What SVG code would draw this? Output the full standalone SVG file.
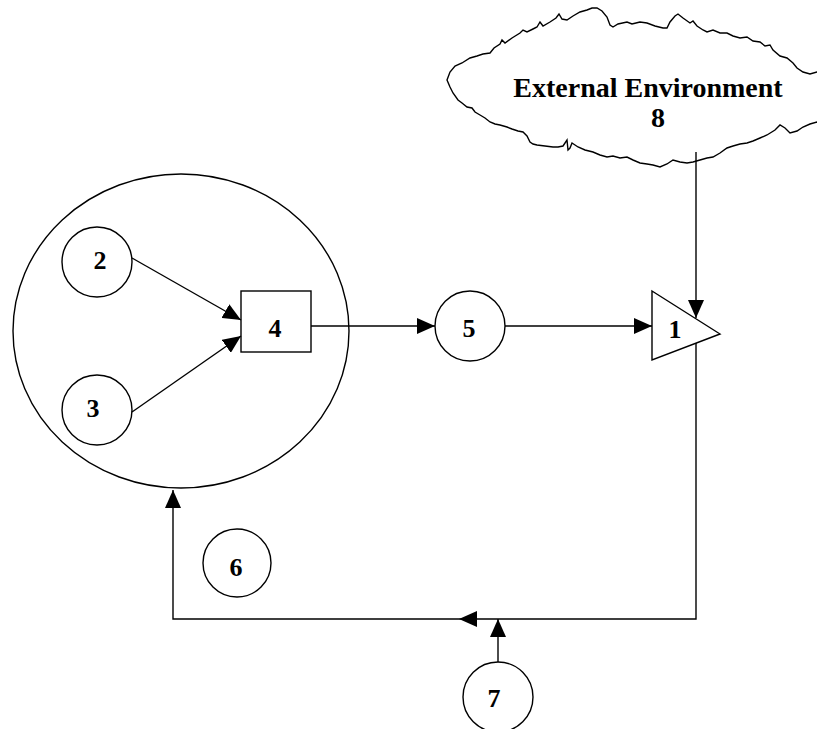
<svg xmlns="http://www.w3.org/2000/svg" width="817" height="729" viewBox="0 0 817 729">
<style>
.s{fill:#fff;stroke:#000;stroke-width:1.4}
.c{fill:none;stroke:#000;stroke-width:1.4}
.t{font-family:"Liberation Serif","Times New Roman",serif;font-weight:bold;font-size:26px;text-anchor:middle;fill:#000}
.big{font-size:28px}
</style>
<defs>
<marker id="ah" viewBox="0 0 18 16" refX="18" refY="8" markerWidth="18" markerHeight="16" markerUnits="userSpaceOnUse" orient="auto">
<path d="M0,0 L18,8 L0,16 z" fill="#000"/>
</marker>
</defs>
<rect width="817" height="729" fill="#fff"/>
<g id="node-8">
<path class="s" d="M447,80 L450,72 L455,66 L462,63 L470,58 L477,56 L483,54 L490,53 L494,48 L500,44 L502,40 L505,43 L512,38 L520,33 L523,30 L527,32 L533,29 L537,27 L540,22 L543,26 L550,22 L556,18 L559,14 L562,19 L567,20 L573,16 L580,12 L587,10 L592,8 L597,8 L602,11 L607,17 L610,25 L613,27 L618,24 L627,22 L632,24 L640,22 L647,23 L655,26 L663,28 L667,28 L670,22 L675,16 L678,14 L683,18 L690,23 L693,21 L697,26 L703,30 L707,32 L713,30 L720,33 L727,33 L733,36 L740,38 L747,37 L753,41 L760,42 L765,46 L770,45 L773,50 L780,56 L787,58 L793,63 L797,68 L803,72 L810,74 L817,72 L830,70 L830,124 L817,122 L810,124 L803,127 L797,131 L790,133 L785,128 L780,125 L775,130 L767,135 L760,138 L753,141 L747,143 L740,144 L733,146 L727,148 L720,153 L713,157 L707,158 L700,160 L693,162 L687,163 L680,162 L673,160 L667,164 L660,167 L653,165 L647,164 L640,163 L633,160 L627,157 L620,158 L613,156 L607,157 L600,155 L593,152 L585,150 L578,147 L572,143 L570,148 L568,150 L567,140 L563,146 L558,147 L553,147 L545,146 L537,145 L533,144 L530,142 L527,136 L523,132 L518,131 L512,129 L507,127 L500,125 L495,124 L490,122 L485,118 L480,115 L475,112 L472,108 L467,107 L462,103 L458,100 L453,93 L450,87 Z"/>
<text class="t big" x="648" y="97">External Environment</text>
<text class="t big" x="658" y="127">8</text>
</g>
<g id="node-system">
<ellipse class="s" cx="181" cy="331" rx="168" ry="157"/>
</g>
<g id="node-2">
<circle class="s" cx="97" cy="262" r="35"/>
<text class="t" x="100" y="269">2</text>
</g>
<g id="node-3">
<circle class="s" cx="97" cy="410" r="35"/>
<text class="t" x="93" y="417">3</text>
</g>
<g id="node-4">
<rect class="s" x="241" y="291" width="70" height="61"/>
<text class="t" x="275" y="337">4</text>
</g>
<g id="node-5">
<circle class="s" cx="470" cy="326" r="35"/>
<text class="t" x="469" y="337">5</text>
</g>
<g id="node-1">
<polygon class="s" points="652,291 720,334 652,360"/>
<text class="t" x="675" y="338">1</text>
</g>
<g id="node-6">
<circle class="s" cx="237" cy="563" r="34"/>
<text class="t" x="236" y="576">6</text>
</g>
<g id="node-7">
<circle class="s" cx="498" cy="697" r="35"/>
<text class="t" x="494" y="707">7</text>
</g>
<g id="connectors">
<path class="c" d="M132,258 L241,320" marker-end="url(#ah)"/>
<path class="c" d="M132,412 L241,336" marker-end="url(#ah)"/>
<path class="c" d="M311,326 H435" marker-end="url(#ah)"/>
<path class="c" d="M505,326 H652" marker-end="url(#ah)"/>
<path class="c" d="M696,152 V318" marker-end="url(#ah)"/>
<path class="c" d="M696,343 V619 H459" marker-end="url(#ah)"/>
<path class="c" d="M459,619 H173 V490" marker-end="url(#ah)"/>
<path class="c" d="M498,662 V619" marker-end="url(#ah)"/>
</g>
</svg>
